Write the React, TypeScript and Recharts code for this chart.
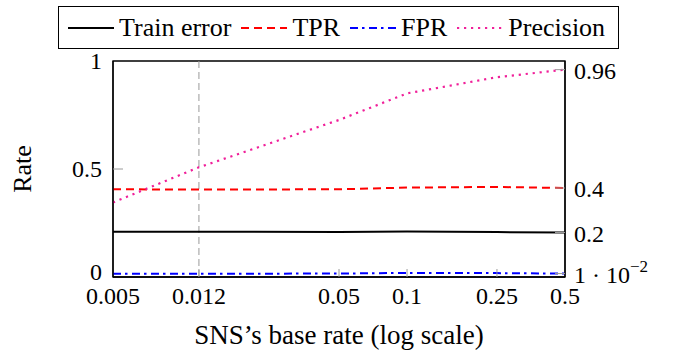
import React from 'react';
import { LineChart, Line, XAxis, YAxis, ReferenceLine, ReferenceArea } from 'recharts';

const baseRates = [0.005, 0.012, 0.05, 0.1, 0.25, 0.5];
const trainError = [0.21, 0.21, 0.208, 0.211, 0.208, 0.206];
const tprValues = [0.406, 0.405, 0.406, 0.414, 0.417, 0.412];
const fprValues = [0.015, 0.015, 0.016, 0.019, 0.018, 0.016];
const precisionValues = [0.345, 0.508, 0.727, 0.85, 0.925, 0.96];

const xTicks = [0.005, 0.012, 0.05, 0.1, 0.25, 0.5];
const xTickLabels = ['0.005', '0.012', '0.05', '0.1', '0.25', '0.5'];
const leftTicks = [0, 0.5, 1];
const leftTickLabels = ['0', '0.5', '1'];
const rightTickLabels = ['0.96', '0.4', '0.2', '1 · 10'];
const rightTickSup = ['', '', '', '−2'];
const markerRate = 0.012;

const FONT = "Liberation Serif, Times New Roman, Times, serif";
const TICK_GREY = '#9a9a9a';
const MAGENTA = '#f0209a';
const FRAME = { stroke: '#000', strokeWidth: 1.3 };

const series = [
  { key: 'train', name: 'Train error', color: '#000000', dash: undefined as string | undefined, width: 2, axis: 'left' },
  { key: 'tpr', name: 'TPR', color: '#ff0000', dash: '8 5', width: 2, axis: 'left' },
  { key: 'fpr', name: 'FPR', color: '#0000ff', dash: '8 4 2.5 4.5', width: 2, axis: 'left' },
  { key: 'precision', name: 'Precision', color: MAGENTA, dash: '2.2 4.8', width: 2.2, axis: 'right' },
];

const XTick = (props: any) => {
  const { x, y, payload } = props;
  const v = payload.value;
  const showInner = v !== xTicks[0] && v !== xTicks[xTicks.length - 1];
  return (
    <g>
      {showInner && <line x1={x} x2={x} y1={y} y2={y - 8} stroke={TICK_GREY} strokeWidth={1} />}
      <text x={x} y={y + 27} textAnchor="middle" fontSize={24} fontFamily={FONT} fill="#000">
        {xTickLabels[xTicks.indexOf(v)] ?? String(v)}
      </text>
    </g>
  );
};

const LeftTick = (props: any) => {
  const { x, y, payload } = props;
  const v = payload.value;
  const i = leftTicks.indexOf(v);
  const dy = v === 0 ? -5 : 0;
  return (
    <g>
      {v !== 0 && v !== 1 && <line x1={x} x2={x + 10} y1={y} y2={y} stroke={TICK_GREY} strokeWidth={1} />}
      <text x={x - 11} y={y + dy} dy={8} textAnchor="end" fontSize={24} fontFamily={FONT} fill="#000">
        {leftTickLabels[i]}
      </text>
    </g>
  );
};

const makeRightTick = (ticks: number[]) => (props: any) => {
  const { x, y, payload } = props;
  const i = ticks.indexOf(payload.value);
  return (
    <g>
      <line x1={x - 10} x2={x} y1={y} y2={y} stroke={TICK_GREY} strokeWidth={1} />
      <text x={x + 9} y={y} dy={9} textAnchor="start" fontSize={24} fontFamily={FONT} fill="#000">
        {rightTickLabels[i]}
        {rightTickSup[i] ? (
          <tspan fontSize={17} dy={-11}>{rightTickSup[i]}</tspan>
        ) : null}
      </text>
    </g>
  );
};

const LegendSample = ({ color, dash, width }: { color: string; dash?: string; width: number }) => (
  <svg width={46} height={10} style={{ display: 'block' }}>
    <line x1={0} x2={46} y1={5} y2={5} stroke={color} strokeWidth={width} strokeDasharray={dash} />
  </svg>
);

export default function App() {
  const data = baseRates.map((r, i) => ({
    rate: r,
    train: trainError[i],
    tpr: tprValues[i],
    fpr: fprValues[i],
    precision: precisionValues[i],
  }));
  const rightTicks = [
    precisionValues[precisionValues.length - 1],
    tprValues[tprValues.length - 1],
    trainError[trainError.length - 1],
    fprValues[fprValues.length - 1],
  ];
  const RightTick = makeRightTick(rightTicks);

  return (
    <div style={{ position: 'absolute', left: 0, top: 0, width: 673, height: 352, background: '#fff', fontFamily: FONT }}>
      <LineChart width={673} height={352} data={data} margin={{ top: 61, right: 48, bottom: 45, left: 53 }}>
        <XAxis
          dataKey="rate"
          type="number"
          scale="log"
          domain={[0.005, 0.5]}
          ticks={xTicks}
          allowDataOverflow
          interval={0}
          tickLine={false}
          axisLine={FRAME}
          tickSize={0}
          tickMargin={0}
          height={30}
          tick={(p: any) => <XTick {...p} />}
          label={{
            content: (lp: any) => {
              const vb = lp.viewBox || {};
              return (
                <text x={vb.x + vb.width / 2} y={vb.y + 67} textAnchor="middle" fontSize={27} fontFamily={FONT} fill="#000">
                  SNS’s base rate (log scale)
                </text>
              );
            },
          }}
        />
        <YAxis
          yAxisId="left"
          type="number"
          domain={[0, 1]}
          ticks={leftTicks}
          width={60}
          interval={0}
          allowDataOverflow
          tickLine={false}
          axisLine={FRAME}
          tickSize={0}
          tickMargin={0}
          tick={(p: any) => <LeftTick {...p} />}
          label={{
            content: (lp: any) => {
              const vb = lp.viewBox || {};
              const cx = 31;
              const cy = vb.y + vb.height / 2;
              return (
                <text x={cx} y={cy} transform={`rotate(-90 ${cx} ${cy})`} textAnchor="middle" fontSize={26} fontFamily={FONT} fill="#000">
                  Rate
                </text>
              );
            },
          }}
        />
        <YAxis
          yAxisId="right"
          orientation="right"
          type="number"
          domain={[0, 1]}
          ticks={rightTicks}
          width={60}
          interval={0}
          allowDataOverflow
          tickLine={false}
          axisLine={FRAME}
          tickSize={0}
          tickMargin={0}
          tick={(p: any) => <RightTick {...p} />}
        />
        <ReferenceLine yAxisId="left" x={markerRate} stroke="#999999" strokeWidth={1} strokeDasharray="7 4" />
        {series.map((s) => (
          <Line
            key={s.key}
            yAxisId={s.axis}
            type="linear"
            dataKey={s.key}
            name={s.name}
            stroke={s.color}
            strokeWidth={s.width}
            strokeDasharray={s.dash}
            dot={false}
            activeDot={false}
            isAnimationActive={false}
          />
        ))}
        <ReferenceArea
          yAxisId="left"
          x1={0.005}
          x2={0.5}
          y1={0}
          y2={1}
          ifOverflow="visible"
          fill="none"
          fillOpacity={0}
          stroke="#000"
          strokeWidth={1.3}
        />
      </LineChart>
      <div
        style={{
          position: 'absolute',
          left: 58,
          top: 6,
          height: 41,
          border: '1px solid #000',
          display: 'flex',
          alignItems: 'center',
          padding: '0 13px 0 9px',
          background: '#fff',
          fontSize: 26,
          lineHeight: '26px',
          whiteSpace: 'nowrap',
        }}
      >
        {series.map((s, i) => (
          <div key={s.key} style={{ display: 'flex', alignItems: 'center', marginLeft: i === 0 ? 0 : 10 }}>
            <LegendSample color={s.color} dash={s.dash} width={s.width} />
            <span style={{ marginLeft: 5 }}>{s.name}</span>
          </div>
        ))}
      </div>
    </div>
  );
}
